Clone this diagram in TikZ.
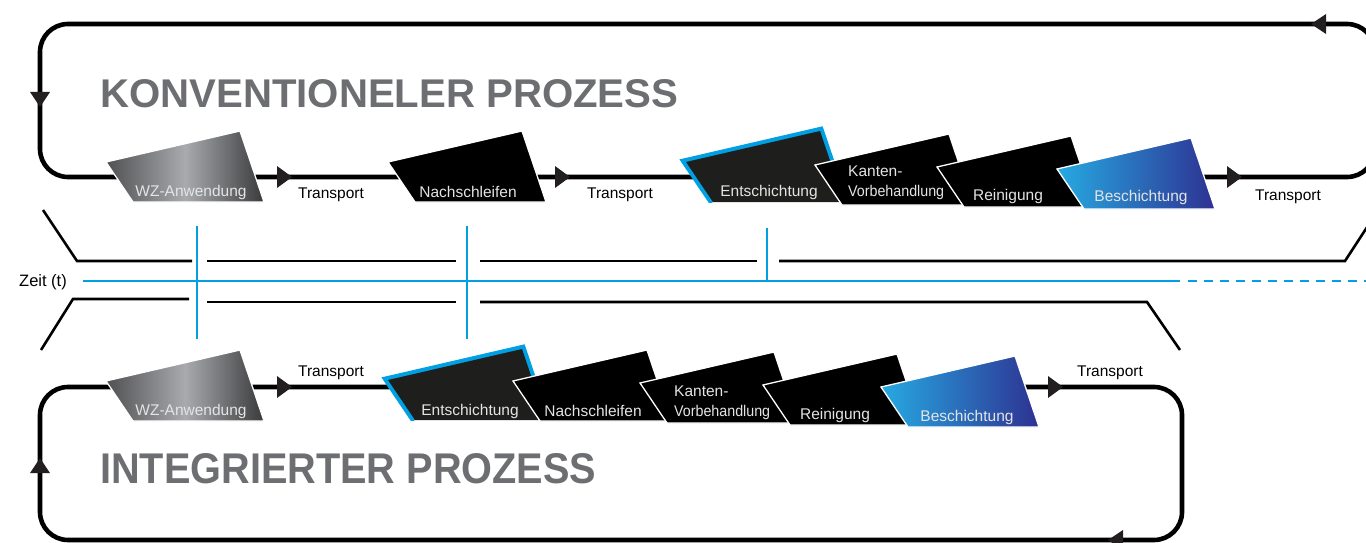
\documentclass[tikz,border=0pt]{standalone}
\usepackage{fontspec}
\setmainfont{Liberation Sans}
\usepackage{graphicx}
\definecolor{tblue}{RGB}{0,160,227}
\definecolor{ttitle}{RGB}{109,110,113}
\definecolor{tarrow}{RGB}{35,31,32}
\definecolor{entfill}{RGB}{30,30,28}
\definecolor{gdark}{RGB}{80,80,82}
\definecolor{glight}{RGB}{168,170,173}
\definecolor{gdarkb}{RGB}{58,58,60}
\definecolor{bslight}{RGB}{38,170,226}
\definecolor{bsdark}{RGB}{46,49,146}
\definecolor{lbltext}{RGB}{228,228,228}
\newcommand\procshape[3]{\path[#3] (#1,#2) -- ++(-27,-40) -- ++(134,-31) -- ++(24,71) -- cycle;}
\newcommand\arrR[3]{\coordinate (#1) at (#2,#3); \fill[tarrow] (#1) -- ++(-15,-11) -- ++(0,22) -- cycle;}
\newcommand\arrL[3]{\coordinate (#1) at (#2,#3); \fill[tarrow] (#1) -- ++(15,-10) -- ++(0,20) -- cycle;}
\newcommand\arrD[3]{\coordinate (#1) at (#2,#3); \fill[tarrow] (#1) -- ++(-10,-15) -- ++(20,0) -- cycle;}
\newcommand\arrU[3]{\coordinate (#1) at (#2,#3); \fill[tarrow] (#1) -- ++(-10,15) -- ++(20,0) -- cycle;}
\begin{document}
\begin{tikzpicture}[x=1pt,y=-1pt,
  loopline/.style={line width=4.6pt, draw=black, rounded corners=28pt},
  tline/.style={line width=2.6pt, draw=black},
  bline/.style={line width=2.6pt, draw=tblue},
  vline/.style={line width=1.5pt, draw=tblue},
  lbl/.style={font=\fontsize{15.5}{16}\selectfont, text=lbltext, inner sep=0pt},
  tlbl/.style={font=\fontsize{15.5}{16}\selectfont, text=black, inner sep=0pt},
  blackbox/.style={fill=black, draw=white, line width=1.3pt},
  wzbox/.style={left color=gdark, right color=gdarkb, middle color=glight, draw=white, line width=1.3pt},
  bsbox/.style={left color=bslight, right color=bsdark, draw=white, line width=1.3pt},
  entbox/.style={fill=entfill},
  title/.style={anchor=south west, inner sep=0pt, text=ttitle}
]
\useasboundingbox (0,0) rectangle (1366,543);
\clip (0,0) rectangle (1366,543);

% ---------- loops ----------
\draw[loopline] (40,24) rectangle (1375,177);
\draw[loopline] (40,387) rectangle (1182,540);

% ---------- titles ----------
\node[title] (ktitle) at (100,108) {\resizebox{578pt}{28pt}{\bfseries KONVENTIONELER PROZESS}};
\node[title] (ititle) at (100,484) {\resizebox{496pt}{30pt}{\bfseries INTEGRIERTER PROZESS}};

% ---------- loop arrows ----------
\arrL{a1}{1311}{24}
\arrD{a2}{40}{107}
\arrR{a3}{292}{177}
\arrR{a4}{570}{177}
\arrR{a5}{1242}{177}
\arrU{a6}{40}{458}
\arrR{a7}{292}{387}
\arrR{a8}{1063}{387}
\arrL{a9}{1108}{540}

% ---------- top row boxes ----------
\procshape{133}{202}{wzbox}
\procshape{415}{202}{blackbox}
\begin{scope}
  \clip (600,100) rectangle (900,202);
  \draw[tblue, line width=8pt, line join=miter] (713,202) -- ++(-27,-40) -- ++(134,-31) -- ++(24,71);
\end{scope}
\procshape{713}{202}{entbox}
\procshape{842}{205}{blackbox}
\procshape{964}{207}{blackbox}
\procshape{1084}{209}{bsbox}

\node[lbl] (k1) at (191,192) {WZ-Anwendung};
\node[lbl] (k2) at (468,192) {Nachschleifen};
\node[lbl] (k3) at (769,192) {Entschichtung};
\node[lbl, anchor=west] (k4a) at (848,171) {Kanten-};
\node[lbl, anchor=west] (k4b) at (848,192) {\scalebox{0.92}[1]{Vorbehandlung}};
\node[lbl] (k5) at (1008,196) {Reinigung};
\node[lbl] (k6) at (1141,197) {Beschichtung};
\node[tlbl] (kt1) at (331,195) {Transport};
\node[tlbl] (kt2) at (620,195) {Transport};
\node[tlbl] (kt3) at (1288,197) {Transport};

% ---------- bottom row boxes ----------
\procshape{133}{421}{wzbox}
\begin{scope}
  \clip (300,320) rectangle (600,420);
  \draw[tblue, line width=8pt, line join=miter] (415,420) -- ++(-27,-40) -- ++(134,-31) -- ++(24,71);
\end{scope}
\procshape{415}{420}{entbox}
\procshape{540}{421}{blackbox}
\procshape{667}{423}{blackbox}
\procshape{790}{425}{blackbox}
\procshape{908}{427}{bsbox}

\node[lbl] (i1) at (191,411) {WZ-Anwendung};
\node[lbl] (i2) at (470,411) {Entschichtung};
\node[lbl] (i3) at (593,411) {Nachschleifen};
\node[lbl, anchor=west] (i4a) at (674,391) {Kanten-};
\node[lbl, anchor=west] (i4b) at (674,412) {\scalebox{0.92}[1]{Vorbehandlung}};
\node[lbl] (i5) at (835,415) {Reinigung};
\node[lbl] (i6) at (967,417) {Beschichtung};
\node[tlbl] (it1) at (331,373) {Transport};
\node[tlbl] (it2) at (1110,373) {Transport};

% ---------- time axis ----------
\node[tlbl, font=\fontsize{16.5}{17}\selectfont] (zeit) at (43,282) {Zeit (t)};
\coordinate (z0) at (83,281);
\coordinate (z1) at (1180,281);
\coordinate (z2) at (1366,281);
\draw[bline] (z0) -- (z1);
\draw[bline, dash pattern=on 9pt off 7pt] ([xshift=8pt]z1) -- (z2);

\draw[tline] (43,210) -- (77,261) -- (192,261);
\draw[tline] (207,261) -- (456,261);
\draw[tline] (480,261) -- (757,261);
\draw[tline] (779,261) -- (1345,261) -- (1373,218);
\draw[tline] (41,350) -- (73,299) -- (189,299);
\draw[tline] (207,302) -- (456,302);
\draw[tline] (480,302) -- (1147,302) -- (1180,350);

\draw[vline] (197,226) -- (197,339);
\draw[vline] (467,226) -- (467,339);
\draw[vline] (767,228) -- (767,281);
\end{tikzpicture}
\end{document}
